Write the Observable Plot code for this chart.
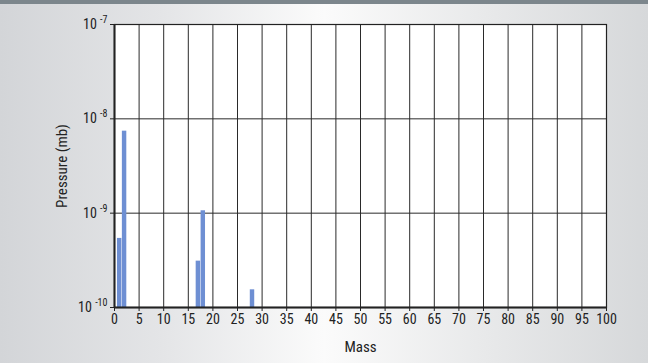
<!DOCTYPE html>
<html><head><meta charset="utf-8">
<script src="https://cdn.jsdelivr.net/npm/d3@7"></script>
<script src="https://cdn.jsdelivr.net/npm/@observablehq/plot@0.6"></script>
<style>
html,body{margin:0;padding:0;}
body{width:648px;height:363px;overflow:hidden;
 background:linear-gradient(to right,#d3d5d8 0%,#e4e5e7 25%,#fbfbfb 50%,#e8e9ea 75%,#d6d8da 100%);
 position:relative;}
#topbar{position:absolute;left:0;top:0;width:648px;height:4px;background:#7c868c;}
#chart{position:absolute;left:0;top:0;}
svg{background:transparent !important;}
</style></head>
<body><div id="topbar"></div><div id="chart"></div>
<script>
const masses = [1, 2, 17, 18, 28];
const pressures = [5.4e-10, 7.4e-9, 3.1e-10, 1.06e-9, 1.54e-10];
const xTicks = [0,5,10,15,20,25,30,35,40,45,50,55,60,65,70,75,80,85,90,95,100];
const yTicks = [1e-10, 1e-9, 1e-8, 1e-7];
const yTickExponents = ["-10","-9","-8","-7"];

const data = masses.map((m,i)=>({mass:m, p:pressures[i]}));
const font = "'Liberation Sans Narrow','Roboto Condensed','Liberation Sans',sans-serif";

const chart = Plot.plot({
  width: 648, height: 363,
  marginLeft: 114, marginRight: 42, marginTop: 24, marginBottom: 56,
  style: {background:"transparent", fontFamily: font, fontSize: "14px", color:"#222"},
  x: {domain:[0,100], ticks: xTicks, tickSize: 4, tickPadding: 3, label: "Mass", labelAnchor:"center", labelArrow:"none", labelOffset: 44},
  y: {type:"log", domain:[1e-10,1e-7], ticks: yTicks, tickSize: 4, tickPadding: 3,
      tickFormat: d => "10|" + yTickExponents[yTicks.findIndex(t=>Math.abs(Math.log10(t)-Math.log10(d))<1e-6)],
      label: "Pressure (mb)", labelAnchor:"center", labelArrow:"none", labelOffset: 58},
  marks: [
    Plot.frame({fill:"white", stroke:null}),
    Plot.ruleX(xTicks, {stroke:"#2a2a2a", strokeWidth:1}),
    Plot.ruleY(yTicks, {stroke:"#2a2a2a", strokeWidth:1}),
    Plot.rect(data, {x1: d=>d.mass-0.4, x2: d=>d.mass+0.5, y1: yTicks[0], y2: "p", fill:"#6e8fd3"}),
    Plot.frame({stroke:"#222", strokeWidth:1.2}),
    Plot.ruleY([yTicks[0]], {stroke:"#222", strokeWidth:2}),
    Plot.ruleX([0], {stroke:"#222", strokeWidth:2})
  ]
});
document.getElementById("chart").appendChild(chart);
chart.querySelectorAll("[aria-label='x-axis label'], [aria-label='y-axis label']").forEach(el=>el.setAttribute("font-size","15"));
const NS = "http://www.w3.org/2000/svg";
chart.querySelectorAll("[aria-label='y-axis tick label'] text").forEach(t=>{
  const s = t.textContent;
  if (!s.includes("|")) return;
  const [base, exp] = s.split("|");
  t.textContent = "";
  const a = document.createElementNS(NS,"tspan"); a.textContent = base + " ";
  const b = document.createElementNS(NS,"tspan"); b.textContent = exp;
  b.setAttribute("font-size","10"); b.setAttribute("dy","-6");
  t.appendChild(a); t.appendChild(b);
});
</script>
</body></html>
